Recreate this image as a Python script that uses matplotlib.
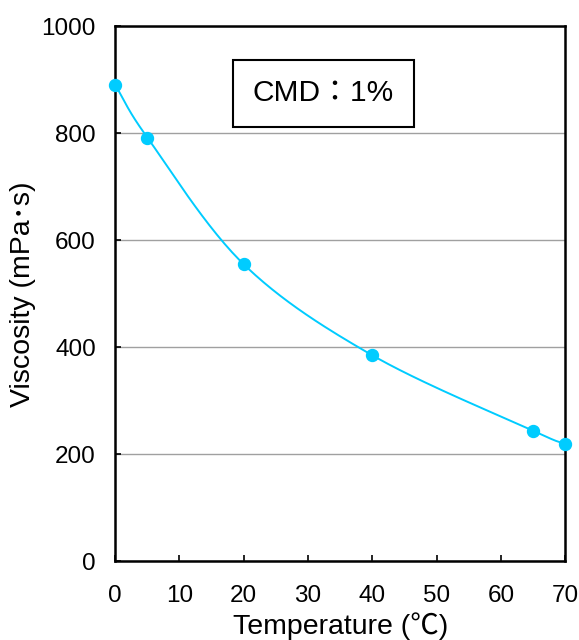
import matplotlib
matplotlib.use("Agg")
import matplotlib.pyplot as plt
import numpy as np

plt.rcParams['font.family'] = ['Liberation Sans', 'Noto Sans CJK JP', 'DejaVu Sans']

# data
temperature = [0, 5, 20, 40, 65, 70]
viscosity = [890, 792, 555, 385, 244, 219]
x_ticks = [0, 10, 20, 30, 40, 50, 60, 70]
y_ticks = [0, 200, 400, 600, 800, 1000]
box_label = "CMD：1%"

line_color = '#00CCFF'


def smoothCurve(xs, ys, n=30):
	# catmull-rom style smoothing like the excel smoothed line
	xs = np.asarray(xs, float)
	ys = np.asarray(ys, float)
	px = np.concatenate([[2*xs[0]-xs[1]], xs, [2*xs[-1]-xs[-2]]])
	py = np.concatenate([[2*ys[0]-ys[1]], ys, [2*ys[-1]-ys[-2]]])
	outx = []
	outy = []
	t = np.linspace(0, 1, n)
	for i in range(1, len(px)-2):
		for arr, out in ((px, outx), (py, outy)):
			p0, p1, p2, p3 = arr[i-1], arr[i], arr[i+1], arr[i+2]
			out.extend(0.5*((2*p1) + (-p0+p2)*t + (2*p0-5*p1+4*p2-p3)*t**2 + (-p0+3*p1-3*p2+p3)*t**3))
	return outx, outy


fig = plt.figure(figsize=(5.79, 6.4), dpi=100)
ax = fig.add_axes([0.199, 0.123, 0.777, 0.836])

sx, sy = smoothCurve(temperature, viscosity)
ax.plot(sx, sy, color=line_color, lw=1.4, zorder=3, clip_on=False)
ax.plot(temperature, viscosity, 'o', color=line_color, ms=8.6, zorder=4, clip_on=False)

ax.set_xlim(0, 70)
ax.set_ylim(0, 1000)
ax.set_xticks(x_ticks)
ax.set_yticks(y_ticks)
ax.tick_params(direction='in', length=4, width=1.2, labelsize=17.5)
ax.tick_params(axis='x', pad=17)
ax.tick_params(axis='y', pad=14)
ax.yaxis.grid(True, color='#a0a0a0', lw=1)
ax.set_axisbelow(True)
for s in ax.spines.values():
	s.set_linewidth(1.8)

ax.set_xlabel('Temperature (℃)', fontsize=20.5, labelpad=4)
ax.set_ylabel('Viscosity (mPa･s)', fontsize=20.5, labelpad=4)

ax.text(0.463, 0.875, box_label, transform=ax.transAxes, fontsize=21.5, ha='center', va='center',
	bbox=dict(boxstyle='square,pad=0.65', fc='white', ec='black', lw=1.5))

fig.savefig('out.png', dpi=100)
